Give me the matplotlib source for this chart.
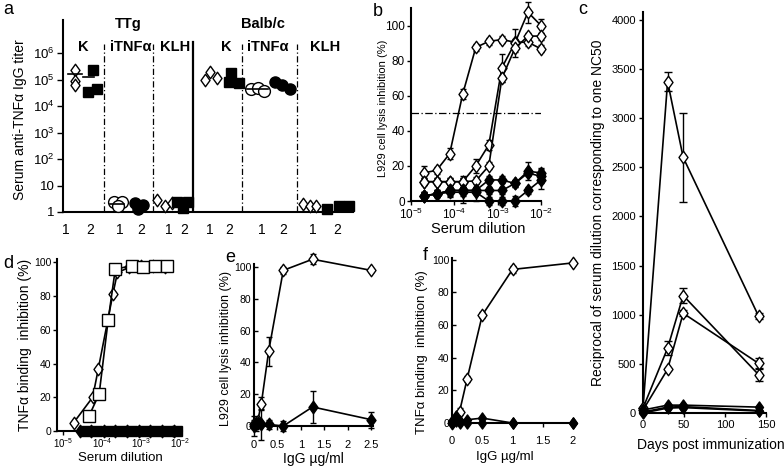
import matplotlib
matplotlib.use('Agg')
import matplotlib.pyplot as plt
from matplotlib.path import Path
from matplotlib.ticker import NullLocator, FixedLocator, FixedFormatter
import numpy as np

plt.rcParams['font.family'] = ['Liberation Sans', 'DejaVu Sans']
plt.rcParams['mathtext.fontset'] = 'custom'
plt.rcParams['mathtext.rm'] = 'Liberation Sans'
plt.rcParams['mathtext.it'] = 'Liberation Sans:italic'
plt.rcParams['mathtext.bf'] = 'Liberation Sans:bold'

# ---------------- data ----------------
# panel a : serum anti-TNFa IgG titers (3 mice per group)
a_ttg_k_1 = [2.3e5, 8.9e4, 6.2e4]
a_ttg_k_2 = [2.3e5, 3.5e4, 4.6e4]
a_ttg_itnf_1 = [2.4, 2.4, 1.7]
a_ttg_itnf_2 = [2.1, 1.25, 1.9]
a_ttg_klh_1 = [2.8, 1.7, 2.2]
a_ttg_klh_2 = [2.4, 1.4, 2.4]
a_balb_k_1 = [9.5e4, 2.0e5, 1.1e5]
a_balb_k_2 = [1.7e5, 8.3e4, 7.6e4]
a_balb_itnf_1 = [4.3e4, 5.0e4, 3.8e4]
a_balb_itnf_2 = [8.3e4, 6.2e4, 4.3e4]
a_balb_klh_1 = [2.0, 1.7, 1.7]
a_balb_klh_2 = [1.25, 1.7, 1.7]
a_means = {'ttg_k_1': 1.6e5, 'ttg_k_2': 1.25e5, 'ttg_itnf_1': 2.0, 'balb_itnf_1': 4.3e4}
a_strains = ['TTg', 'Balb/c']
a_groups = ['K', 'iTNFα', 'KLH', 'K', 'iTNFα', 'KLH']
a_ticklabels = ['1', '2'] * 6
a_yticks = [1, 10, 1e2, 1e3, 1e4, 1e5, 1e6]
a_yticklabels = ['1', '10', '$10^2$', '$10^3$', '$10^4$', '$10^5$', '$10^6$']

# panel b : L929 cell lysis inhibition vs serum dilution
b_dil = [1/51200, 1/25600, 1/12800, 1/6400, 1/3200, 1/1600, 1/800, 1/400, 1/200, 1/100]
b_open1 = [16, 17.5, 27, 61, 87.5, 91, 92, 90.5, 90.5, 86.7]
b_open1_err = [4, 2, 3, 3, 2, 2, 2, 2, 2, 2]
b_open2 = [11, 11, 11, 11, 20, 32, 76, 90, 107.6, 100]
b_open2_err = [2, 2, 2, 3, 4, 3, 8, 8, 6, 4]
b_open3 = [11, 11, 11, 11, 11.5, 20, 70, 87, 94, 94]
b_open3_err = [2, 2, 2, 2, 2, 2, 2, 2, 2, 2]
b_fill1 = [3, 4, 6, 6, 6, 12, 12, 10, 17, 16]
b_fill1_err = [2, 2, 4, 2, 2, 2, 2, 2, 5, 3]
b_fill2 = [3, 4, 6, 6, 6, 6, 6, 10, 16, 14]
b_fill2_err = [2, 2, 2, 7, 2, 2, 2, 2, 2, 4]
b_fill3 = [3, 4, 5, 5, 5, 0, 0, 0, 6, 12]
b_fill3_err = [2, 2, 2, 2, 5, 2, 2, 3, 2, 5]
b_threshold = 50

# panel c : reciprocal serum dilution giving one NC50 vs days
c_days = [0, 30, 49, 141]
c_open1 = [50, 3372, 2600, 985]
c_open1_err = [0, 100, 450, 30]
c_open2 = [50, 660, 1195, 390]
c_open2_err = [0, 70, 75, 65]
c_open3 = [30, 445, 1015, 505]
c_open3_err = [0, 0, 30, 55]
c_fill1 = [30, 80, 80, 60]
c_fill2 = [10, 60, 65, 25]
c_fill3 = [0, 50, 55, 20]

# panel d : TNFa binding inhibition vs serum dilution
d_open_x = [1.9e-5, 5.8e-5, 8.1e-5, 1.9e-4, 2.5e-4, 5e-4, 1e-3, 2e-3, 4e-3]
d_open_y = [5, 20, 37, 81, 94, 97, 98, 98, 97]
d_sq_x = [4.7e-5, 8.5e-5, 1.45e-4, 2.2e-4, 5.8e-4, 1.15e-3, 2.3e-3, 4.6e-3]
d_sq_y = [9, 22, 66, 96, 98, 97, 98, 98]
d_fill_x = [2.7e-5, 5.4e-5, 1.1e-4, 2.2e-4, 4.4e-4, 8.8e-4, 1.75e-3, 3.5e-3, 7e-3]
d_fill_y = [0, 0, 0, 0, 0, 0, 0, 0, 0]
d_fsq_x = [3.8e-5, 7.6e-5, 1.5e-4, 3e-4, 6e-4, 1.2e-3, 2.4e-3, 4.8e-3, 8.3e-3]
d_fsq_y = [0, 0, 0, 0, 0, 0, 0, 0, 0]

# panel e : L929 cell lysis inhibition vs IgG
e_conc = [0, 0.039, 0.078, 0.156, 0.3125, 0.625, 1.25, 2.5]
e_open = [1, 2, 3, 14, 47, 98, 105, 98]
e_open_err = [3, 2, 2, 4, 9, 2, 3, 1]
e_fill = [0, 1, 2, 1, 1, 0, 12, 4]
e_fill_err = [6, 4, 3, 10, 3, 3, 10, 5]

# panel f : TNFa binding inhibition vs IgG
f_conc = [0, 0.0625, 0.125, 0.25, 0.5, 1, 2]
f_open = [0, 3, 7, 27, 66, 94, 98]
f_open_err = [0, 1, 2, 2, 2, 2, 1]
f_fill1 = [1, 4, 1, 2, 3, 0, 0]
f_fill2 = [0, 1, 0, 0, 0, 0, 0]

# ---------------- figure ----------------
W, H = 784, 468
fig = plt.figure(figsize=(W / 100, H / 100), dpi=100)


def add_ax(l, t, r, b):
    ax = fig.add_axes([l / W, 1 - b / H, (r - l) / W, (b - t) / H])
    for s in ('top', 'right'):
        ax.spines[s].set_visible(False)
    for s in ('left', 'bottom'):
        ax.spines[s].set_linewidth(1.5)
    ax.tick_params(direction='out', length=3, width=1, pad=2)
    ax.set_facecolor('none')
    return ax


def ftext(x, y, s, **kw):
    fig.text(x / W, 1 - y / H, s, **kw)


DIA = Path([(0, 1), (0.72, 0), (0, -1), (-0.72, 0), (0, 1)],
           [Path.MOVETO, Path.LINETO, Path.LINETO, Path.LINETO, Path.CLOSEPOLY])

OPEN = dict(marker=DIA, mfc='white', mec='black', mew=1.0, color='black', lw=1.2)
FILL = dict(marker=DIA, mfc='black', mec='black', mew=1.0, color='black', lw=1.2)


def series(ax, x, y, err=None, style=OPEN, ms=9, cap=2.5):
    if err is not None:
        ax.errorbar(x, y, yerr=err, fmt='none', ecolor='black', elinewidth=1,
                    capsize=cap, capthick=1, clip_on=False, zorder=2)
    ax.plot(x, y, ms=ms, clip_on=False, zorder=3, **style)


# ---------- panel a ----------
ax = add_ax(63, 20, 353, 212)
ax.set_yscale('log')
ax.set_ylim(1, 10 ** 7.25)
ax.set_xlim(0, 290)
ax.yaxis.set_major_locator(FixedLocator(a_yticks))
ax.yaxis.set_major_formatter(FixedFormatter(a_yticklabels))
ax.yaxis.set_minor_locator(NullLocator())
ax.tick_params(axis='y', labelsize=9.5, length=4)
a_tickpos = [3, 27, 57, 78, 106, 121, 147, 166, 199, 220, 250, 274]
ax.set_xticks(a_tickpos)
ax.set_xticklabels(a_ticklabels, fontsize=10)
ax.tick_params(axis='x', length=0, pad=8)

a_sets = [
    (a_ttg_k_1, 12, [0, 0, 0], 'o_d'), (a_ttg_k_2, 29, [0.7, -3.7, 4.7], 'f_s'),
    (a_ttg_itnf_1, 54, [-3.5, 4.5, 0.5], 'o_c'), (a_ttg_itnf_2, 76, [-4, -1.3, 4.3], 'f_c'),
    (a_ttg_klh_1, 101, [-7.3, 1, 7.7], 'o_d'), (a_ttg_klh_2, 120, [-6.3, -0.3, 5.3], 'f_s'),
    (a_balb_k_1, 147, [-5.5, 0, 6.5], 'o_d'), (a_balb_k_2, 169, [-1.5, -3.5, 6.5], 'f_s'),
    (a_balb_itnf_1, 195, [-7, 0, 6], 'o_c'), (a_balb_itnf_2, 219, [-7, 0.3, 8], 'f_c'),
    (a_balb_klh_1, 246, [-6.5, 0.5, 7], 'o_d'), (a_balb_klh_2, 275, [-11, 0.5, 10.5], 'f_s'),
]
for vals, cx, jit, kind in a_sets:
    xs = [cx + j for j in jit]
    if kind == 'o_d':
        kw = dict(marker=DIA, ms=9, mfc='white', mec='black', mew=1.0)
    elif kind == 'o_c':
        kw = dict(marker='o', ms=8.5, mfc='white', mec='black', mew=1.0)
    elif kind == 'f_c':
        kw = dict(marker='o', ms=8, mfc='black', mec='black')
    else:
        kw = dict(marker='s', ms=7.5, mfc='black', mec='black')
    ax.plot(xs, vals, ls='none', clip_on=False, zorder=3, **kw)

mean_spans = {'ttg_k_1': (5, 19), 'ttg_k_2': (20, 31), 'ttg_itnf_1': (47, 61),
              'balb_itnf_1': (184, 205)}
for k, v in a_means.items():
    x0, x1 = mean_spans[k]
    ax.plot([x0, x1], [v, v], color='black', lw=1.2, zorder=4)

for xd in (41, 90, 179, 234):
    ax.plot([xd, xd], [1, 10 ** 6.35], color='black', lw=0.9,
            dashes=(5, 2, 1, 2), zorder=1)
ax.plot([130, 130], [1, 10 ** 6.42], color='black', lw=1.6, zorder=1)

ftext(128, 24, a_strains[0], fontsize=10.5, fontweight='bold', ha='center', va='center')
ftext(263, 24, a_strains[1], fontsize=10.5, fontweight='bold', ha='center', va='center')
for gx, g in zip([83, 131, 175, 226, 268, 325], a_groups):
    ftext(gx, 47, g, fontsize=10.5, fontweight='bold', ha='center', va='center')
ftext(20, 120, 'Serum anti-TNFα IgG titer', fontsize=10, rotation=90,
      ha='center', va='center')

# ---------- panel b ----------
ax = add_ax(411, 8, 541, 201)
ax.set_xscale('log')
ax.set_xlim(1e-5, 1e-2)
ax.set_ylim(0, 110)
ax.set_yticks([0, 20, 40, 60, 80, 100])
ax.xaxis.set_major_locator(FixedLocator([1e-5, 1e-4, 1e-3, 1e-2]))
ax.xaxis.set_major_formatter(FixedFormatter(['$10^{-5}$', '$10^{-4}$', '$10^{-3}$', '$10^{-2}$']))
ax.xaxis.set_minor_locator(NullLocator())
ax.tick_params(labelsize=8.5, pad=1.5)
ax.plot([1e-5, 1e-2], [b_threshold, b_threshold], color='black', lw=0.9,
        dashes=(6, 2, 1, 2), zorder=1)
for y, e in ((b_open1, b_open1_err), (b_open2, b_open2_err), (b_open3, b_open3_err)):
    series(ax, b_dil, y, e, OPEN, ms=9)
for y, e in ((b_fill1, b_fill1_err), (b_fill2, b_fill2_err), (b_fill3, b_fill3_err)):
    series(ax, b_dil, y, e, FILL, ms=9)
ftext(383, 108, 'L929 cell lysis inhibition (%)', fontsize=8, rotation=90,
      ha='center', va='center')
ftext(478, 229, 'Serum dilution', fontsize=10.5, ha='center', va='center')

# ---------- panel c ----------
ax = add_ax(643, 12, 766, 413)
ax.set_xlim(0, 150)
ax.set_ylim(0, 4080)
ax.set_xticks([0, 50, 100, 150])
ax.set_yticks(range(0, 4001, 500))
ax.tick_params(labelsize=8)
for y, e in ((c_open1, c_open1_err), (c_open2, c_open2_err), (c_open3, c_open3_err)):
    series(ax, c_days, y, e, OPEN, ms=9, cap=3)
for y in (c_fill1, c_fill2, c_fill3):
    series(ax, c_days, y, None, FILL, ms=8)
ftext(598, 213, 'Reciprocal of serum dilution corresponding to one NC50', fontsize=10,
      rotation=90, ha='center', va='center')
ftext(711, 445, 'Days post immunization', fontsize=10, ha='center', va='center')

# ---------- panel d ----------
ax = add_ax(57, 259, 182, 431)
ax.set_xscale('log')
ax.set_xlim(10 ** -5.15, 10 ** -1.95)
ax.set_ylim(0, 102)
ax.set_yticks([0, 20, 40, 60, 80, 100])
ax.xaxis.set_major_locator(FixedLocator([1e-5, 1e-4, 1e-3, 1e-2]))
ax.xaxis.set_major_formatter(FixedFormatter(['$10^{-5}$', '$10^{-4}$', '$10^{-3}$', '$10^{-2}$']))
ax.xaxis.set_minor_locator(NullLocator())
ax.tick_params(labelsize=7.5, pad=1)
ax.tick_params(axis='x', labelsize=7, pad=0.5)
series(ax, d_open_x, d_open_y, None, OPEN, ms=9)
series(ax, d_sq_x, d_sq_y, None, dict(OPEN, marker='s'), ms=8)
series(ax, d_fill_x, d_fill_y, None, FILL, ms=9)
series(ax, d_fsq_x, d_fsq_y, None, dict(FILL, marker='s'), ms=7)
ftext(25, 345, 'TNFα binding  inhibition (%)', fontsize=10, rotation=90,
      ha='center', va='center')
ftext(120, 458, 'Serum dilution', fontsize=9.5, ha='center', va='center')

# ---------- panel e ----------
ax = add_ax(254, 264, 373, 426)
ax.set_xlim(0, 2.54)
ax.set_ylim(0, 102)
ax.set_yticks([0, 20, 40, 60, 80, 100])
ax.set_xticks([0, 0.5, 1, 1.5, 2, 2.5])
ax.set_xticklabels(['0', '0.5', '1', '1.5', '2', '2.5'])
ax.tick_params(labelsize=8, pad=1)
ax.tick_params(axis='y', direction='in', labelsize=7.5, pad=2)
ax.tick_params(axis='x', pad=7)
series(ax, e_conc, e_open, e_open_err, OPEN, ms=9)
series(ax, e_conc, e_fill, e_fill_err, FILL, ms=9)
ftext(226, 348, 'L929 cell lysis inhibition (%)', fontsize=9, rotation=90,
      ha='center', va='center')
ftext(313, 459, 'IgG µg/ml', fontsize=10, ha='center', va='center')

# ---------- panel f ----------
ax = add_ax(452, 258, 573, 423)
ax.set_xlim(0, 2.0)
ax.set_ylim(0, 101)
ax.set_yticks([0, 20, 40, 60, 80, 100])
ax.set_xticks([0, 0.5, 1, 1.5, 2])
ax.set_xticklabels(['0', '0.5', '1', '1.5', '2'])
ax.tick_params(labelsize=8, pad=1)
ax.tick_params(axis='y', direction='in', labelsize=7.5, pad=2)
ax.tick_params(axis='x', pad=6)
series(ax, f_conc, f_open, f_open_err, OPEN, ms=9)
series(ax, f_conc, f_fill1, None, FILL, ms=8)
series(ax, f_conc, f_fill2, None, FILL, ms=8)
ftext(422, 352, 'TNFα binding  inhibition (%)', fontsize=9.5, rotation=90,
      ha='center', va='center')
ftext(505, 457, 'IgG µg/ml', fontsize=9.5, ha='center', va='center')

# ---------- panel letters ----------
for lx, ly, s in ((8, 10, 'a'), (378, 11, 'b'), (583, 9, 'c'),
                  (8, 264, 'd'), (230, 257, 'e'), (425, 255, 'f')):
    ftext(lx, ly, s, fontsize=13, ha='center', va='center')

fig.savefig('out.png', dpi=100)
